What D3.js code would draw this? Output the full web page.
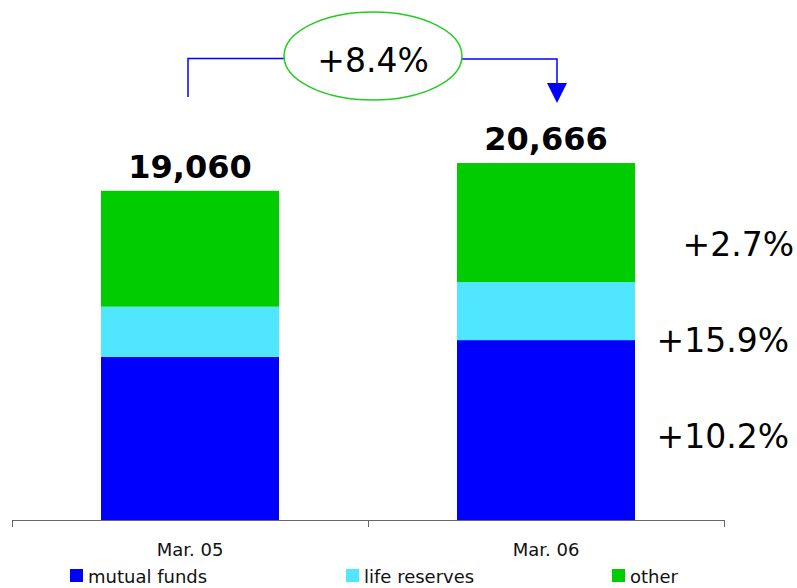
<!DOCTYPE html>
<html>
<head>
<meta charset="utf-8">
<script src="https://cdn.jsdelivr.net/npm/d3@7/dist/d3.min.js"></script>
<style>
  body { margin: 0; background: #fff; }
  svg { display: block; }
</style>
</head>
<body>
<div class="chart-holder"></div>
<script>
// data
const periods = ['Mar. 05', 'Mar. 06'];
const mutualFunds = [9450, 10414];
const lifeReserves = [2900, 3361];
const other = [6710, 6891];
const totals = ['19,060', '20,666'];
const seriesNames = ['mutual funds', 'life reserves', 'other'];
const seriesColors = ['#0000ff', '#50e6ff', '#00cc00'];
const growth = ['+2.7%', '+15.9%', '+10.2%'];
const totalGrowth = '+8.4%';

const W = 797, H = 588;
const font = '"DejaVu Sans", Verdana, sans-serif';
const svg = d3.select('.chart-holder')
  .append('svg')
  .attr('width', W)
  .attr('height', H);

const rows = periods.map((p, i) => ({
  period: p,
  'mutual funds': mutualFunds[i],
  'life reserves': lifeReserves[i],
  'other': other[i]
}));

const layers = d3.stack().keys(seriesNames)(rows);

const x = d3.scaleBand()
  .domain(periods)
  .range([12, 724])
  .paddingInner(0.5)
  .paddingOuter(0.25);

const y = d3.scaleLinear()
  .domain([0, 22000])
  .range([520, 140]);

const color = d3.scaleOrdinal().domain(seriesNames).range(seriesColors);

// bars
svg.append('g').selectAll('g')
  .data(layers)
  .enter().append('g')
    .attr('fill', d => color(d.key))
  .selectAll('rect')
  .data(d => d)
  .enter().append('rect')
    .attr('x', d => x(d.data.period))
    .attr('y', d => y(d[1]))
    .attr('width', x.bandwidth())
    .attr('height', d => y(d[0]) - y(d[1]));

// axis: line with ticks at the band edges
const axis = svg.append('g').attr('stroke', '#666').attr('stroke-width', 1);
axis.append('line')
  .attr('x1', 12).attr('x2', 724)
  .attr('y1', 520.5).attr('y2', 520.5);
const edges = [12, 12 + x.step(), 12 + 2 * x.step()];
axis.selectAll('.tk')
  .data(edges)
  .enter().append('line')
    .attr('x1', d => d + 0.5).attr('x2', d => d + 0.5)
    .attr('y1', 520).attr('y2', 527);

svg.append('g').selectAll('text')
  .data(periods)
  .enter().append('text')
    .attr('x', d => x(d) + x.bandwidth() / 2)
    .attr('y', 556)
    .attr('text-anchor', 'middle')
    .attr('font-family', font)
    .attr('font-size', 18)
    .attr('fill', '#111')
    .text(d => d);

// totals on top of bars
svg.append('g').selectAll('text')
  .data(periods)
  .enter().append('text')
    .attr('x', d => x(d) + x.bandwidth() / 2)
    .attr('y', (d, i) => y(layers[2][i][1]) - 13)
    .attr('text-anchor', 'middle')
    .attr('font-family', font)
    .attr('font-weight', 'bold')
    .attr('font-size', 32)
    .attr('fill', '#000')
    .text((d, i) => totals[i]);

// growth labels on the right
const growthY = [256, 352, 448];
const growthX = [794, 789, 789];
svg.append('g').selectAll('text')
  .data(growth)
  .enter().append('text')
    .attr('x', (d, i) => growthX[i])
    .attr('y', (d, i) => growthY[i])
    .attr('text-anchor', 'end')
    .attr('font-family', font)
    .attr('font-size', 33)
    .attr('fill', '#000')
    .text(d => d);

// connector with arrow and ellipse
const conn = svg.append('g').attr('stroke', '#0000ff').attr('stroke-width', 1.5).attr('fill', 'none');
conn.append('path').attr('d', 'M188,97 V58.5 H285');
conn.append('path').attr('d', 'M461,59 H557 V84');
svg.append('path')
  .attr('d', 'M547,83 L567,83 L557,103 Z')
  .attr('fill', '#0000ff');

svg.append('ellipse')
  .attr('cx', 373).attr('cy', 56)
  .attr('rx', 89).attr('ry', 44)
  .attr('fill', '#fff')
  .attr('stroke', '#22cc22')
  .attr('stroke-width', 1.5);
svg.append('text')
  .attr('x', 373).attr('y', 72)
  .attr('text-anchor', 'middle')
  .attr('font-family', font)
  .attr('font-size', 33)
  .attr('fill', '#000')
  .text(totalGrowth);

// legend
const legX = [70, 346, 612];
const leg = svg.append('g').selectAll('g')
  .data(seriesNames)
  .enter().append('g')
    .attr('transform', (d, i) => `translate(${legX[i]},569)`);
leg.append('rect')
  .attr('width', 13).attr('height', 13)
  .attr('fill', d => color(d));
leg.append('text')
  .attr('x', 18).attr('y', 14)
  .attr('font-family', font)
  .attr('font-size', 18)
  .attr('fill', '#111')
  .text(d => d);
</script>
</body>
</html>
